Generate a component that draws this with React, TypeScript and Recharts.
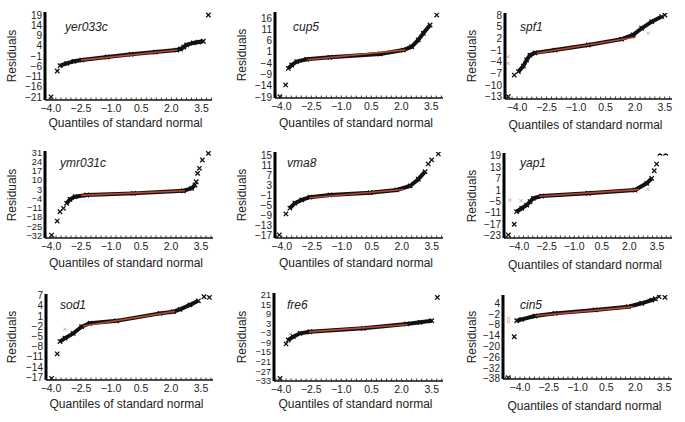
import React from 'react';
import { ScatterChart, Scatter, XAxis, YAxis } from 'recharts';

type P = [number, number];

const FONT = "'Liberation Sans', Arial, Helvetica, sans-serif";

const GENES = ['yer033c', 'cup5', 'spf1', 'ymr031c', 'vma8', 'yap1', 'sod1', 'fre6', 'cin5'];
const X_TITLE = 'Quantiles of standard normal';
const Y_TITLE = 'Residuals';

const X_MAJOR = [-4.0, -2.5, -1.0, 0.5, 2.0, 3.5];
const X_MINOR = [
  -4.75, -4.5, -4.25, -4, -3.75, -3.5, -3.25, -3, -2.75, -2.5, -2.25, -2, -1.75, -1.5, -1.25, -1,
  -0.75, -0.5, -0.25, 0, 0.25, 0.5, 0.75, 1, 1.25, 1.5, 1.75, 2, 2.25, 2.5, 2.75, 3, 3.25, 3.5,
  3.75, 4, 4.25,
];

// y tick labels per gene
const Y_YER033C = [19, 14, 9, 4, -1, -6, -11, -16, -21];
const Y_CUP5 = [16, 11, 6, 1, -4, -9, -14, -19];
const Y_SPF1 = [8, 5, 2, -1, -4, -7, -10, -13];
const Y_YMR031C = [31, 24, 17, 10, 3, -4, -11, -18, -25, -32];
const Y_VMA8 = [15, 11, 7, 3, -1, -5, -9, -13, -17];
const Y_YAP1 = [19, 13, 7, 1, -5, -11, -17, -23];
const Y_SOD1 = [7, 4, 1, -2, -5, -8, -11, -14, -17];
const Y_FRE6 = [21, 15, 9, 3, -3, -9, -15, -21, -27, -33];
const Y_CIN5 = [4, -2, -8, -14, -20, -26, -32, -38];

// dense band of ordered residuals (quantile, residual)
const BAND_YER033C: P[] = [[-3.54, -5.7], [-3.21, -4.6], [-2.85, -3.6], [-2.46, -3.0], [-1.2, -1.5], [0, -0.2], [1.2, 0.9], [2.26, 1.9], [2.45, 2.4], [2.62, 3.4], [2.76, 4.4], [3.09, 5.4], [3.35, 5.8], [3.59, 6.2]];
const BAND_CUP5: P[] = [[-3.65, -6.3], [-3.48, -4.8], [-3.23, -3.3], [-2.73, -2.3], [-1.57, -1.4], [0.94, 0.1], [2.1, 1.8], [2.52, 3.3], [2.85, 6.3], [3.1, 9.2], [3.44, 12.9]];
const BAND_SPF1: P[] = [[-3.93, -6.5], [-3.68, -5.1], [-3.51, -3.5], [-3.34, -2.3], [-3.09, -1.7], [-2.07, -1.0], [-0.38, 0.3], [1.31, 1.8], [1.9, 2.9], [2.33, 4.6], [2.84, 6.3], [3.35, 7.6]];
const BAND_YMR031C: P[] = [[-3.22, -7.5], [-3.05, -4.5], [-2.8, -2.5], [-2.22, -1.25], [0.12, 0], [2.62, 2.0], [3.03, 3.8], [3.2, 6.3]];
const BAND_VMA8: P[] = [[-3.59, -6.0], [-3.34, -4.0], [-3.0, -2.7], [-2.59, -1.6], [-1.59, -0.7], [0.42, 0.2], [1.75, 1.3], [2.42, 2.9], [2.83, 5.6], [3.17, 8.6]];
const BAND_YAP1: P[] = [[-4.13, -10.4], [-3.85, -8.6], [-3.58, -6.9], [-3.4, -5.1], [-3.22, -3.4], [-2.77, -2.2], [-0.23, -0.7], [2.3, 1.0], [2.94, 4.5], [3.21, 7.1]];
const BAND_SOD1: P[] = [[-3.55, -6.5], [-3.3, -5.5], [-2.89, -4.1], [-2.47, -2.1], [-2.05, -1.1], [-0.72, -0.4], [1.45, 1.8], [2.12, 2.3], [2.45, 3.0], [2.95, 4.3], [3.37, 5.5]];
const BAND_FRE6: P[] = [[-3.64, -7.3], [-3.39, -5.2], [-3.05, -3.1], [-2.56, -2.1], [0.1, 0.05], [2.25, 2.8], [2.92, 3.8], [3.5, 4.8]];
const BAND_CIN5: P[] = [[-4.17, -5.7], [-3.91, -4.9], [-3.22, -3.1], [-2.18, -1.6], [-0.09, 0.3], [1.64, 2.1], [2.34, 4.0], [2.86, 5.8], [3.05, 6.5]];

// isolated extreme residuals
const OUT_YER033C: P[] = [[3.84, 19], [-3.68, -8.3], [-3.99, -20.9]];
const OUT_CUP5: P[] = [[3.77, 17.3], [-3.78, -13.6], [-4.07, -18.8]];
const OUT_SPF1: P[] = [[3.51, 8], [-4.44, -12.9], [-4.14, -7.4]];
const OUT_YMR031C: P[] = [[3.87, 30.2], [3.57, 25.2], [3.42, 18.9], [3.33, 15.1], [3.26, 8.8], [-3.97, -31.5], [-3.69, -20.9], [-3.55, -13.9], [-3.38, -11.3]];
const OUT_VMA8: P[] = [[3.83, 15.7], [3.5, 13.3], [3.33, 11.7], [-3.79, -8.3], [-4.12, -16.7]];
const OUT_YAP1: P[] = [[3.66, 20.3], [3.97, 20.3], [3.48, 14.6], [3.35, 11.1], [-4.26, -17], [-4.58, -22.6]];
const OUT_SOD1: P[] = [[3.65, 6.7], [3.92, 6.5], [-3.69, -10.1], [-3.97, -17.3]];
const OUT_FRE6: P[] = [[3.78, 19.5], [-4.05, -31.4], [-3.75, -9.8]];
const OUT_CIN5: P[] = [[3.24, 7.7], [3.55, 7.3], [-4.3, -14.6], [-4.61, -37.3]];

// faint (light) points
const FAINT_YER033C: P[] = [];
const FAINT_CUP5: P[] = [];
const FAINT_SPF1: P[] = [[-4.45, -2.7], [-4.45, -4.4], [2.67, 3.3]];
const FAINT_YMR031C: P[] = [];
const FAINT_VMA8: P[] = [];
const FAINT_YAP1: P[] = [[-4.49, -4.3], [-3.89, -4.6], [3.0, 1.4]];
const FAINT_SOD1: P[] = [[-3.3, -2.9]];
const FAINT_FRE6: P[] = [[-3.55, -3.5]];
const FAINT_CIN5: P[] = [[-4.6, -4.3], [-4.6, -6.2]];

// reference (fit) line end points
const FIT_YER033C: P[] = [[-2.5, -3.0], [2.3, 1.9]];
const FIT_CUP5: P[] = [[-2.7, -2.5], [2.2, 1.9]];
const FIT_SPF1: P[] = [[-3.0, -1.8], [2.0, 2.3]];
const FIT_YMR031C: P[] = [[-2.5, -1.5], [2.7, 2.0]];
const FIT_VMA8: P[] = [[-2.6, -1.8], [2.1, 1.5]];
const FIT_YAP1: P[] = [[-2.9, -2.3], [2.5, 1.2]];
const FIT_SOD1: P[] = [[-2.4, -1.9], [2.2, 2.4]];
const FIT_FRE6: P[] = [[-2.6, -2.2], [2.3, 2.4]];
const FIT_CIN5: P[] = [[-3.2, -2.9], [1.9, 2.0]];

const Y_TICKS = [Y_YER033C, Y_CUP5, Y_SPF1, Y_YMR031C, Y_VMA8, Y_YAP1, Y_SOD1, Y_FRE6, Y_CIN5];
const BANDS = [BAND_YER033C, BAND_CUP5, BAND_SPF1, BAND_YMR031C, BAND_VMA8, BAND_YAP1, BAND_SOD1, BAND_FRE6, BAND_CIN5];
const OUTS = [OUT_YER033C, OUT_CUP5, OUT_SPF1, OUT_YMR031C, OUT_VMA8, OUT_YAP1, OUT_SOD1, OUT_FRE6, OUT_CIN5];
const FAINTS = [FAINT_YER033C, FAINT_CUP5, FAINT_SPF1, FAINT_YMR031C, FAINT_VMA8, FAINT_YAP1, FAINT_SOD1, FAINT_FRE6, FAINT_CIN5];
const FITS = [FIT_YER033C, FIT_CUP5, FIT_SPF1, FIT_YMR031C, FIT_VMA8, FIT_YAP1, FIT_SOD1, FIT_FRE6, FIT_CIN5];

// layout (pixels) and axis domains
type Lay = { L: number; R: number; T: number; B: number; xd: [number, number]; yd: [number, number]; tx: number; ty: number; rx: number; qy: number };
const LAYOUT: Lay[] = [
  { L: 45, R: 212, T: 12, B: 100, xd: [-4.29, 4.02], yd: [-22.46, 20.46], tx: 65, ty: 27, rx: 12, qy: 123 },
  { L: 275, R: 443, T: 12, B: 98, xd: [-4.315, 4.085], yd: [-19.4, 18.65], tx: 293, ty: 27, rx: 242, qy: 123 },
  { L: 505, R: 672, T: 13, B: 99, xd: [-4.61, 3.87], yd: [-13.54, 8.51], tx: 520, ty: 27, rx: 472, qy: 125 },
  { L: 45, R: 213, T: 151, B: 238, xd: [-4.3, 4.1], yd: [-33.7, 32.0], tx: 60, ty: 163, rx: 12, qy: 263 },
  { L: 275, R: 443, T: 152, B: 238, xd: [-4.335, 4.065], yd: [-17.92, 16.48], tx: 287, ty: 163, rx: 242, qy: 263 },
  { L: 504, R: 672, T: 153, B: 238, xd: [-4.815, 4.315], yd: [-24.2, 20.42], tx: 520, ty: 163, rx: 472, qy: 265 },
  { L: 46, R: 213, T: 294, B: 380, xd: [-4.25, 4.1], yd: [-17.8, 7.5], tx: 60, ty: 305, rx: 12, qy: 404 },
  { L: 274, R: 443, T: 293, B: 381, xd: [-4.348, 4.06], yd: [-33.1, 22.26], tx: 287, ty: 305, rx: 242, qy: 404 },
  { L: 503, R: 672, T: 295, B: 379, xd: [-4.885, 3.917], yd: [-38.05, 8.6], tx: 520, ty: 305, rx: 472, qy: 406 },
];

const toPts = (a: P[]) => a.map(([x, y]) => ({ x, y }));
const fmt = (v: number, d: number) => (v < 0 ? '\u2212' : '') + Math.abs(v).toFixed(d);

const XMark = (props: any) => {
  const { cx, cy } = props;
  if (cx == null || cy == null) return <g />;
  const s = 2.2;
  return (
    <path
      d={`M${cx - s},${cy - s}L${cx + s},${cy + s}M${cx - s},${cy + s}L${cx + s},${cy - s}`}
      stroke="#111"
      strokeWidth={1.3}
      fill="none"
    />
  );
};

const FaintMark = (props: any) => {
  const { cx, cy } = props;
  if (cx == null || cy == null) return <g />;
  const s = 1.6;
  return (
    <path
      d={`M${cx - s},${cy - s}L${cx + s},${cy + s}M${cx - s},${cy + s}L${cx + s},${cy - s}`}
      stroke="#e8a3a0"
      strokeWidth={1}
      fill="none"
    />
  );
};

const Empty = () => <g />;

const XTick = (props: any) => {
  const { x, y, payload } = props;
  const v = payload.value as number;
  const major = X_MAJOR.some((m) => Math.abs(m - v) < 1e-9);
  return (
    <g>
      <line x1={x} x2={x} y1={y} y2={y - 2.5} stroke="#222" strokeWidth={0.9} />
      {major && (
        <text x={x} y={y + 12} textAnchor="middle" fontSize={10.5} fill="#222" fontFamily={FONT}>
          {fmt(v, 1)}
        </text>
      )}
    </g>
  );
};

const YW = 45;
const MT = 10;
const MR = 6;
const XH = 30;

function Panel({ i }: { i: number }) {
  const lay = LAYOUT[i];
  const pw = lay.R - lay.L;
  const ph = lay.B - lay.T;
  const xt = X_MINOR.filter((v) => v >= lay.xd[0] && v <= lay.xd[1]);
  const yFont = Y_TICKS[i].length >= 10 ? 9.2 : 10;
  return (
    <>
      <div style={{ position: 'absolute', left: lay.L - YW, top: lay.T - MT }}>
        <ScatterChart width={YW + pw + MR} height={MT + ph + XH} margin={{ top: MT, right: MR, bottom: 0, left: 0 }}>
          <XAxis
            type="number"
            dataKey="x"
            domain={lay.xd}
            allowDataOverflow
            ticks={xt}
            interval={0}
            height={XH}
            axisLine={{ stroke: '#111', strokeWidth: 1.4 }}
            tickLine={false}
            tickSize={0}
            tickMargin={0}
            tick={(p: any) => <XTick {...p} />}
          />
          <YAxis
            type="number"
            dataKey="y"
            domain={lay.yd}
            allowDataOverflow
            ticks={Y_TICKS[i]}
            interval={0}
            width={YW}
            axisLine={{ stroke: '#000', strokeWidth: 3 }}
            tickLine={false}
            tickSize={0}
            tickMargin={3}
            tick={{ fontSize: yFont, fill: '#222', fontFamily: FONT }}
            tickFormatter={(v: number) => fmt(v, 0)}
          />
          <Scatter data={toPts(FAINTS[i])} shape={FaintMark} isAnimationActive={false} />
          <Scatter
            data={toPts(BANDS[i])}
            line={{ stroke: '#111', strokeWidth: 4 }}
            shape={XMark}
            isAnimationActive={false}
          />
          <Scatter
            data={toPts(FITS[i])}
            line={{ stroke: '#b8452f', strokeWidth: 1.6 }}
            shape={Empty}
            isAnimationActive={false}
          />
          <Scatter data={toPts(OUTS[i])} shape={XMark} isAnimationActive={false} />
        </ScatterChart>
      </div>
      <div
        style={{
          position: 'absolute',
          left: lay.tx,
          top: lay.ty,
          transform: 'translateY(-50%)',
          fontFamily: FONT,
          fontStyle: 'italic',
          fontSize: 12,
          color: '#222',
          whiteSpace: 'nowrap',
          lineHeight: 1,
        }}
      >
        {GENES[i]}
      </div>
      <div
        style={{
          position: 'absolute',
          left: lay.rx,
          top: (lay.T + lay.B) / 2,
          transform: 'translate(-50%, -50%) rotate(-90deg)',
          fontFamily: FONT,
          fontSize: 12,
          color: '#222',
          whiteSpace: 'nowrap',
          lineHeight: 1,
        }}
      >
        {Y_TITLE}
      </div>
      <div
        style={{
          position: 'absolute',
          left: (lay.L + lay.R) / 2 - 3,
          top: lay.qy,
          transform: 'translate(-50%, -50%)',
          fontFamily: FONT,
          fontSize: 12,
          color: '#222',
          whiteSpace: 'nowrap',
          lineHeight: 1,
        }}
      >
        {X_TITLE}
      </div>
    </>
  );
}

export default function App() {
  return (
    <div style={{ position: 'absolute', left: 0, top: 0, width: 685, height: 422, background: '#fff', overflow: 'hidden' }}>
      {GENES.map((g, i) => (
        <Panel key={g} i={i} />
      ))}
    </div>
  );
}
